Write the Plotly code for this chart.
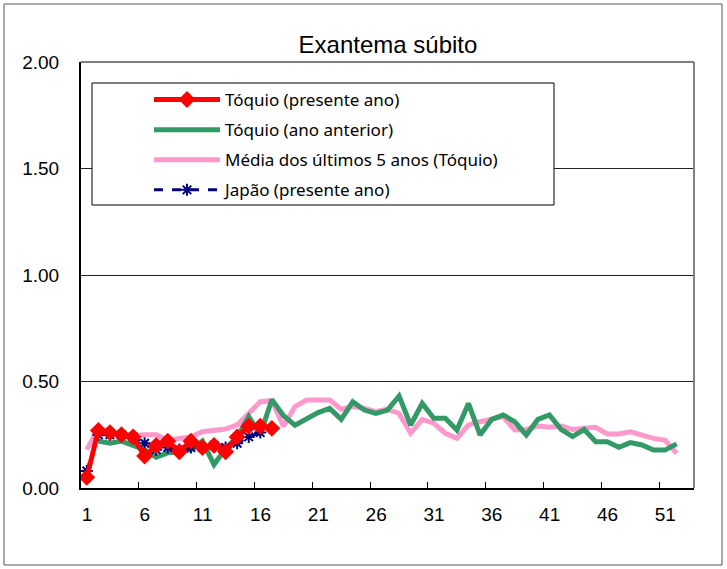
import plotly.graph_objects as go

weeks = list(range(1, 54))

tokyo_now = [0.05, 0.27, 0.26, 0.25, 0.24, 0.15, 0.20, 0.22, 0.17, 0.22,
             0.19, 0.20, 0.17, 0.24, 0.29, 0.29, 0.28]

tokyo_prev = [None, 0.22, 0.21, 0.22, 0.20, 0.18, 0.145, 0.165, 0.17, 0.18,
              0.22, 0.11, 0.185, 0.24, 0.335, 0.25, 0.415, 0.34, 0.295, 0.327,
              0.354, 0.374, 0.322, 0.405, 0.366, 0.35, 0.366, 0.432, 0.296, 0.397,
              0.327, 0.327, 0.272, 0.397, 0.249, 0.322, 0.343, 0.311, 0.249, 0.322,
              0.343, 0.275, 0.241, 0.275, 0.217, 0.217, 0.191, 0.213, 0.202, 0.178,
              0.178, 0.207]

avg5 = [0.18, 0.28, 0.26, 0.25, 0.245, 0.25, 0.25, 0.225, 0.235, 0.24,
        0.264, 0.269, 0.277, 0.296, 0.35, 0.405, 0.41, 0.29, 0.382, 0.413,
        0.413, 0.413, 0.37, 0.382, 0.374, 0.358, 0.37, 0.35, 0.257, 0.322,
        0.304, 0.257, 0.233, 0.296, 0.311, 0.325, 0.335, 0.272, 0.275, 0.291,
        0.285, 0.291, 0.275, 0.28, 0.285, 0.254, 0.254, 0.264, 0.249, 0.233,
        0.225, 0.163]

japan_now = [0.08, 0.25, 0.25, 0.25, 0.24, 0.21, 0.18, 0.19, 0.18, 0.19,
             0.19, 0.20, 0.19, 0.21, 0.24, 0.26]

x_tick_labels = ["1", "6", "11", "16", "21", "26", "31", "36", "41", "46", "51"]
y_ticks = [0, 0.5, 1.0, 1.5, 2.0]

title_text = "Exantema súbito"
names = ["Tóquio (presente ano)", "Tóquio (ano anterior)",
         "Média dos últimos 5 anos (Tóquio)", "Japão (presente ano)"]

FONT = "Liberation Sans, Arial, sans-serif"
LEG_FONT = "Noto Sans, sans-serif"

fig = go.Figure()

fig.add_trace(go.Scatter(
    x=weeks[:len(avg5)], y=avg5, name=names[2], mode="lines",
    line=dict(color="#FF99CC", width=5), legendrank=3, legendgroup="g3"))
fig.add_trace(go.Scatter(
    x=weeks[:len(tokyo_prev)], y=tokyo_prev, name=names[1], mode="lines",
    line=dict(color="#339966", width=5), legendrank=2, legendgroup="g2"))
fig.add_trace(go.Scatter(
    x=weeks[:len(japan_now)], y=japan_now, name=names[3], mode="lines+markers",
    line=dict(color="#000080", width=3, dash="dash"),
    marker=dict(symbol="asterisk-open", size=10, color="#000080",
                line=dict(color="#000080", width=2)),
    legendrank=4, legendgroup="g4"))
fig.add_trace(go.Scatter(
    x=weeks[:len(tokyo_now)], y=tokyo_now, name=names[0], mode="lines+markers",
    line=dict(color="#FF0000", width=5),
    marker=dict(symbol="diamond", size=13, color="#FF0000"),
    legendrank=1, legendgroup="g1"))

L, R, T, B = 81, 694, 62, 488
W, H = 727, 569
pw, ph = R - L, B - T


def px_x(p):
    return (p - L) / pw


def px_y(p):
    return (B - p) / ph


shapes = [
    # outer chart frame
    dict(type="rect", xref="paper", yref="paper",
         x0=px_x(4), x1=px_x(722), y0=px_y(565), y1=px_y(4),
         line=dict(color="#555555", width=1), layer="below"),
    # top and right plot borders
    dict(type="line", xref="paper", yref="paper", x0=0, x1=1, y0=1, y1=1,
         line=dict(color="#808080", width=2)),
    dict(type="line", xref="paper", yref="paper", x0=1, x1=1, y0=0, y1=1,
         line=dict(color="#808080", width=2)),
    # legend box
    dict(type="rect", xref="paper", yref="paper",
         x0=px_x(92), x1=px_x(554), y0=px_y(205), y1=px_y(83),
         line=dict(color="#000000", width=1), fillcolor="white", layer="above"),
]

fig.update_layout(
    width=W, height=H,
    margin=dict(l=L, r=W - R, t=T, b=H - B, autoexpand=False),
    paper_bgcolor="white", plot_bgcolor="white",
    font=dict(family=FONT, size=19, color="#000000"),
    title=dict(text=title_text, x=388 / W, xanchor="center",
               y=1 - 45 / H, yanchor="middle",
               font=dict(family=FONT, size=24, color="#000000")),
    showlegend=True,
    legend=dict(x=px_x(149), y=px_y(82), xanchor="left", yanchor="top",
                bgcolor="rgba(0,0,0,0)", borderwidth=0,
                font=dict(family=LEG_FONT, size=17, color="#000000"),
                itemwidth=66, traceorder="grouped", tracegroupgap=5),
    shapes=shapes,
    xaxis=dict(range=[0.5, 53.5], showgrid=False, zeroline=False,
               automargin=False, tickmode="array",
               tickvals=[0.5 + 5 * i for i in range(len(x_tick_labels))],
               ticktext=x_tick_labels, ticks="inside", ticklen=6,
               tickcolor="#000000", tickwidth=1, ticklabelshift=6,
               ticklabelstandoff=8,
               showline=True, linecolor="#000000", linewidth=2),
    yaxis=dict(range=[0, 2], tickmode="array", tickvals=y_ticks,
               tickformat=".2f", showgrid=True, gridcolor="#222222",
               gridwidth=1, zeroline=False, ticks="", automargin=False,
               ticklabelstandoff=16,
               showline=True, linecolor="#000000", linewidth=2),
)

fig.write_html("out.html",
               config={"displayModeBar": False},
               post_script="document.body.style.margin='0';"
                           "document.body.style.padding='0';")
